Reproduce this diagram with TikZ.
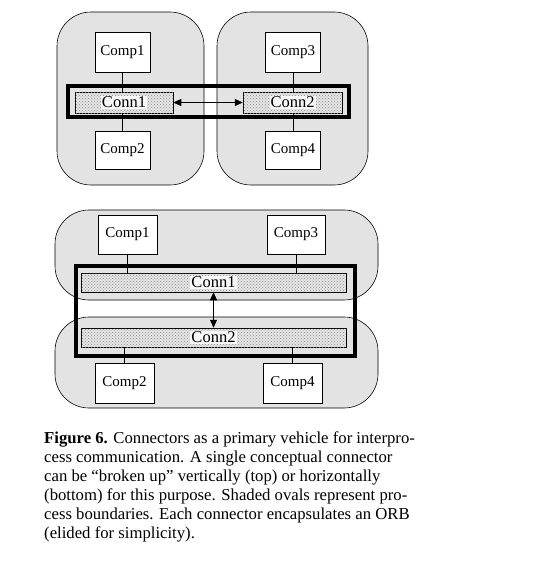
\documentclass[tikz,border=0pt]{standalone}
\usepackage{fontspec}
\setmainfont{Liberation Serif}
\usetikzlibrary{patterns,arrows.meta}

\tikzset{
  proc/.style={draw, line width=0.6pt, fill=black!11, rounded corners=34pt},
  comp/.style={draw, line width=0.5pt, fill=white, inner sep=0pt, font=\fontsize{15}{18}\selectfont},
  conn/.style={draw, line width=0.5pt, fill=black!10, inner sep=0pt,
    postaction={pattern=crosshatch dots, pattern color=black!45}},
  connlabel/.style={fill=black!3, inner sep=1pt, font=\fontsize{16.5}{18}\selectfont},
  wire/.style={line width=0.5pt},
  bound/.style={line width=4pt},
  link/.style={line width=0.6pt, {Triangle[length=8pt,width=7pt]}-{Triangle[length=8pt,width=7pt]}}
}

\begin{document}
\begin{tikzpicture}[x=1pt,y=-1pt]
  %%%%% START %%%%%
  \useasboundingbox (0,0) rectangle (537,562);

  % top: connector split across two processes
  \draw[proc] (57,12) rectangle (204,185);
  \draw[proc] (217,12) rectangle (368,185);

  \node[comp, minimum width=55pt, minimum height=40pt] (tc1) at (122.5,52) {Comp1};
  \node[comp, minimum width=55pt, minimum height=40pt] (tc3) at (293,52) {Comp3};
  \node[comp, minimum width=55pt, minimum height=38pt] (tc2) at (122.5,150) {Comp2};
  \node[comp, minimum width=55pt, minimum height=38pt] (tc4) at (293,150) {Comp4};

  \node[conn, minimum width=98pt, minimum height=21pt] (tconn1) at (124,102.5) {};
  \node[conn, minimum width=99pt, minimum height=21pt] (tconn2) at (292.5,102.5) {};
  \node[connlabel] at (tconn1) {Conn1};
  \node[connlabel] at (tconn2) {Conn2};

  \draw[wire] (tc1.south) -- (tc1.south |- tconn1.north);
  \draw[wire] (tc2.north) -- (tc2.north |- tconn1.south);
  \draw[wire] (tc3.south) -- (tc3.south |- tconn2.north);
  \draw[wire] (tc4.north) -- (tc4.north |- tconn2.south);
  \draw[link] (tconn1.east) -- (tconn2.west);

  \draw[bound] (68,86) rectangle (349,117);

  % bottom: connector split across two processes
  \draw[proc] (55,210) rectangle (378,300);
  \draw[proc] (55,317) rectangle (378,408);

  \node[comp, minimum width=59pt, minimum height=39pt] (bc1) at (127.5,234.5) {Comp1};
  \node[comp, minimum width=58pt, minimum height=39pt] (bc3) at (296,234.5) {Comp3};
  \node[comp, minimum width=59pt, minimum height=40pt] (bc2) at (124.5,383) {Comp2};
  \node[comp, minimum width=59pt, minimum height=40pt] (bc4) at (292.5,383) {Comp4};

  \node[conn, minimum width=265pt, minimum height=19pt] (bconn1) at (213.5,282.5) {};
  \node[conn, minimum width=265pt, minimum height=19pt] (bconn2) at (213.5,337.5) {};
  \node[connlabel] at (bconn1) {Conn1};
  \node[connlabel] at (bconn2) {Conn2};

  \draw[wire] (bc1.south) -- (bc1.south |- bconn1.north);
  \draw[wire] (bc3.south) -- (bc3.south |- bconn1.north);
  \draw[wire] (bc2.north) -- (bc2.north |- bconn2.south);
  \draw[wire] (bc4.north) -- (bc4.north |- bconn2.south);
  \draw[link] (bconn1.south) -- (bconn2.north);

  \draw[bound] (76,266) rectangle (355,356);

  % caption
  \node[anchor=base west, align=left, inner sep=0pt, font=\fontsize{16.7}{19.1}\selectfont] (caption) at (44,538.5)
    {\textbf{Figure 6.} Connectors as a primary vehicle for interpro-\\
     cess communication. A single conceptual connector\\
     can be ``broken up'' vertically (top) or horizontally\\
     (bottom) for this purpose. Shaded ovals represent pro-\\
     cess boundaries. Each connector encapsulates an ORB\\
     (elided for simplicity).};
  %%%%% END %%%%%
\end{tikzpicture}
\end{document}
